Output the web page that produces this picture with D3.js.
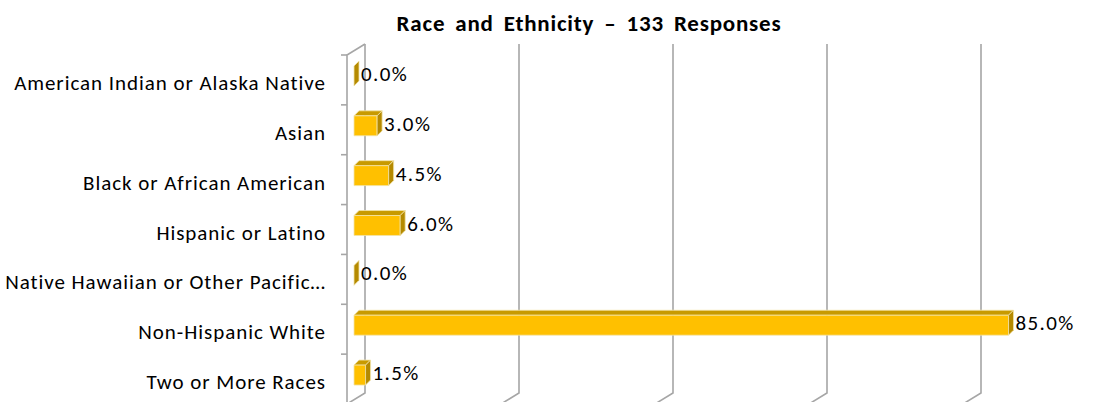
<!DOCTYPE html>
<html>
<head>
<meta charset="utf-8">
<script src="https://cdn.jsdelivr.net/npm/d3@7"></script>
<style>
  body { margin: 0; background: #fff; }
  text { font-family: Carlito, Calibri, Lato, "Liberation Sans", Arial, sans-serif; }
</style>
</head>
<body>
<div id="chart"></div>
<script>
const categories = [
    "American Indian or Alaska Native",
    "Asian",
    "Black or African American",
    "Hispanic or Latino",
    "Native Hawaiian or Other Pacific\u2026",
    "Non-Hispanic White",
    "Two or More Races"
];
const percents = [0.0, 3.0, 4.5, 6.0, 0.0, 85.0, 1.5];
const gridTicks = [0, 20, 40, 60, 80, 100];
const chartTitle = "Race and Ethnicity \u2013 133 Responses";

const W = 1112, H = 402;
const plot = { left: 347, top: 55, bottom: 404 };
const depth = { dx: 18, dy: -11 };
const barFront = { dx: 7, dy: -4 }, barDepth = { dx: 5, dy: -5 };

const svg = d3.select("#chart")
    .append("svg")
    .attr("width", W)
    .attr("height", H);

const xScale = d3.scaleLinear()
    .domain([0, 100])
    .range([0, 770]);

const yScale = d3.scaleBand()
    .domain(categories)
    .range([plot.top, plot.bottom])
    .paddingInner(0.6)
    .paddingOuter(0.3);

const step = yScale.step();
const gridColor = "#a6a6a6";

// title
svg.append("text")
    .attr("x", 589)
    .attr("y", 31)
    .attr("text-anchor", "middle")
    .style("font-size", "23px")
    .style("font-weight", "bold")
    .style("letter-spacing", "0.8px")
    .style("word-spacing", "4px")
    .text(chartTitle);

// back wall gridlines + floor lines
const grid = svg.append("g").attr("stroke", gridColor).attr("stroke-width", 1.6).attr("fill", "none");
gridTicks.forEach(t => {
    const xb = plot.left + depth.dx + xScale(t);
    const xf = plot.left + xScale(t);
    grid.append("path")
        .attr("d", `M${xb},${plot.top + depth.dy} L${xb},${plot.bottom + depth.dy} L${xf},${plot.bottom}`);
});

// side wall (left)
grid.append("path")
    .attr("d", `M${plot.left},${plot.bottom} L${plot.left},${plot.top} L${plot.left + depth.dx},${plot.top + depth.dy}`);

// category ticks on the front axis
d3.range(categories.length + 1).forEach(i => {
    const y = plot.top + i * step;
    grid.append("line")
        .attr("x1", plot.left - 6).attr("x2", plot.left)
        .attr("y1", y).attr("y2", y);
});

// category labels
svg.append("g")
    .selectAll("text")
    .data(categories)
    .join("text")
    .attr("x", 326)
    .attr("y", d => yScale(d) + yScale.bandwidth() / 2 + 10)
    .attr("text-anchor", "end")
    .style("font-size", "21px")
    .style("letter-spacing", "0.95px")
    .attr("fill", "#000")
    .text(d => d);

// 3d bars
const data = categories.map((c, i) => ({ cat: c, value: percents[i] }));
const bw = yScale.bandwidth();
const bars = svg.append("g");

data.forEach(d => {
    const x0 = plot.left + barFront.dx;
    const x1 = x0 + xScale(d.value);
    const y0 = yScale(d.cat) + barFront.dy;
    const y1 = y0 + bw;
    const ddx = barDepth.dx, ddy = barDepth.dy;
    const g = bars.append("g").attr("stroke", "#f3e3a8").attr("stroke-width", 0.8).attr("stroke-linejoin", "round");
    if (d.value > 0) {
        g.append("path")
            .attr("fill", "#c89a00")
            .attr("d", `M${x0},${y0} L${x1},${y0} L${x1 + ddx},${y0 + ddy} L${x0 + ddx},${y0 + ddy} Z`);
        g.append("rect")
            .attr("fill", "#ffc000")
            .attr("x", x0).attr("y", y0)
            .attr("width", x1 - x0).attr("height", bw);
    }
    g.append("path")
        .attr("fill", "#b58a00")
        .attr("d", `M${x1},${y0} L${x1 + ddx},${y0 + ddy} L${x1 + ddx},${y1 + ddy} L${x1},${y1} Z`);

    // value label
    svg.append("text")
        .attr("x", x1 + ddx + 2)
        .attr("y", y0 + bw / 2 + 5)
        .style("font-size", "21px")
        .style("letter-spacing", "1.4px")
        .attr("fill", "#000")
        .text(d.value.toFixed(1) + "%");
});
</script>
</body>
</html>
